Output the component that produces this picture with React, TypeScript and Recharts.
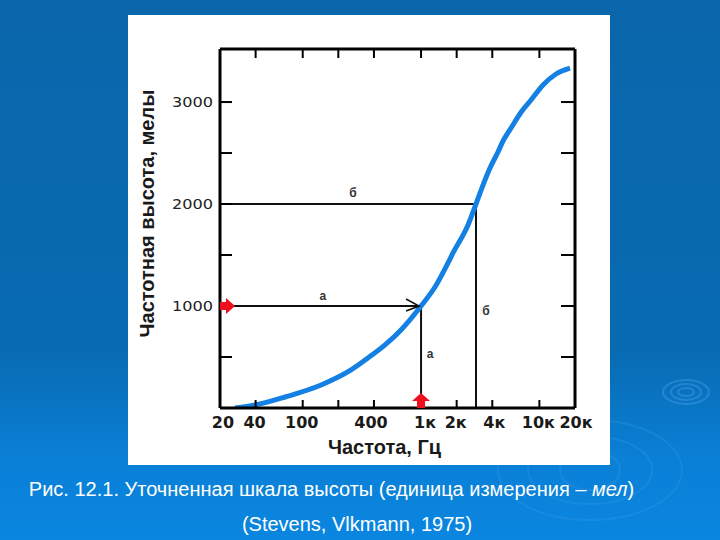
import React from "react";
import { ComposedChart, Line, XAxis, YAxis, ReferenceDot } from "recharts";

const sansBold = "'DejaVu Sans', sans-serif";
const arial = "'Liberation Sans', Arial, sans-serif";

// Hz on the x axis, mels on the y axis
const curveFreq = [26.8, 39.5, 71, 143, 256, 356, 496, 677, 1000, 1312, 1690, 1862, 2494, 2913, 3340, 3826, 4470, 4930, 5760, 7000, 8500, 10740, 13820, 18140];
const curveMels = [0, 29, 108, 225, 373, 490, 618, 765, 1000, 1186, 1422, 1520, 1794, 2000, 2186, 2353, 2510, 2618, 2745, 2900, 3020, 3167, 3275, 3333];
const guideAFreq = [20, 1000, 1000];
const guideAMels = [1000, 1000, 0];
const guideBFreq = [20, 2913, 2913];
const guideBMels = [2000, 2000, 0];
const freqTicks = [20, 40, 100, 200, 400, 1000, 2000, 4000, 10000, 20000];
const freqLabels = ["20", "40", "100", "", "400", "1к", "2к", "4к", "10к", "20к"];
const melTicks = [500, 1000, 1500, 2000, 2500, 3000];
const melLabels = ["", "1000", "", "2000", "", "3000"];
const noteFreq = [266, 148, 3540, 1191];
const noteMels = [2108, 1098, 951, 529];
const noteText = ["б", "а", "б", "а"];

const zip = (xs: number[], ys: number[]) => xs.map((f, i) => ({ f, mel: ys[i] }));
const curve = zip(curveFreq, curveMels);
const guideA = zip(guideAFreq, guideAMels);
const guideB = zip(guideBFreq, guideBMels);
const domainX: [number, number] = [20, 20000];
const domainY: [number, number] = [0, 3520];

const BottomTick = (p: any) => {
  const i = freqTicks.indexOf(p.payload.value);
  const nudge = [3, -1, -1, 0, -3, 4, -1, 2, -1, 1][i] || 0;
  return (
    <text x={p.x + nudge} y={p.y + 26} textAnchor="middle" fontFamily={sansBold} fontWeight={700} fontSize={16} fill="#1a1a1a">
      {freqLabels[i]}
    </text>
  );
};
const LeftTick = (p: any) => {
  const i = melTicks.indexOf(p.payload.value);
  return (
    <text x={85} y={p.y + 5} textAnchor="end" fontFamily={sansBold} fontSize={14} fill="#222" textLength={melLabels[i] ? 41 : undefined} lengthAdjust="spacingAndGlyphs">
      {melLabels[i]}
    </text>
  );
};
const EmptyTick = () => <g />;

const rightArrow = (p: any) => (
  <polygon points={`${p.cx},${p.cy - 4} ${p.cx + 6},${p.cy - 4} ${p.cx + 6},${p.cy - 8} ${p.cx + 15},${p.cy} ${p.cx + 6},${p.cy + 8} ${p.cx + 6},${p.cy + 4} ${p.cx},${p.cy + 4}`} fill="#ee0f1e" />
);
const upArrow = (p: any) => (
  <polygon points={`${p.cx - 4},${p.cy} ${p.cx - 4},${p.cy - 7} ${p.cx - 9},${p.cy - 7} ${p.cx},${p.cy - 15} ${p.cx + 9},${p.cy - 7} ${p.cx + 4},${p.cy - 7} ${p.cx + 4},${p.cy}`} fill="#ee0f1e" />
);
const blackArrow = (p: any) => (
  <polyline points={`${p.cx - 15},${p.cy - 7} ${p.cx - 2},${p.cy} ${p.cx - 15},${p.cy + 5}`} fill="none" stroke="#111" strokeWidth={1.6} />
);

export default function App() {
  return (
    <div style={{ position: "absolute", left: 0, top: 0, width: 720, height: 540, overflow: "hidden", background: "linear-gradient(180deg,#0b66ab 0%,#086bb2 65%,#0a80d6 85%,#0a86e0 100%)" }}>
      <svg width={720} height={540} style={{ position: "absolute", left: 0, top: 0 }}>
        <g fill="none" stroke="#4aa3ea" strokeOpacity={0.4} strokeWidth={2}>
          <ellipse cx={686} cy={392} rx={8} ry={4} />
          <ellipse cx={686} cy={392} rx={15} ry={8} />
          <ellipse cx={686} cy={392} rx={23} ry={12} />
        </g>
        <g fill="none" stroke="#4aa3ea" strokeOpacity={0.22} strokeWidth={2}>
          <ellipse cx={590} cy={470} rx={30} ry={20} />
          <ellipse cx={590} cy={470} rx={62} ry={34} />
          <ellipse cx={590} cy={470} rx={92} ry={50} />
        </g>
      </svg>
      <div style={{ position: "absolute", left: 128, top: 15, width: 482, height: 450, background: "#fff" }}>
        <ComposedChart width={482} height={450} margin={{ left: 32, top: 29, right: 30, bottom: 17 }} data={curve}>
          <XAxis xAxisId="bottom" type="number" dataKey="f" scale="log" domain={domainX} ticks={freqTicks} interval={0} allowDataOverflow height={40} stroke="#000" strokeWidth={3} tickLine={{ stroke: "#000", strokeWidth: 2 }} tickSize={-8} tick={<BottomTick />}
            label={{ value: "Частота, Гц", position: "insideBottom", dy: 11, dx: -13, style: { fontFamily: arial, fontWeight: 700, fontSize: 20, fill: "#1a1a1a" } }} />
          <XAxis xAxisId="top" orientation="top" type="number" dataKey="f" scale="log" domain={domainX} ticks={freqTicks.slice(1, -1)} interval={0} allowDataOverflow height={5} stroke="#000" strokeWidth={3} tickLine={{ stroke: "#000", strokeWidth: 2 }} tickSize={-9} tick={<EmptyTick />} />
          <YAxis yAxisId="left" type="number" domain={domainY} ticks={melTicks} interval={0} allowDataOverflow width={60} stroke="#000" strokeWidth={3} tickLine={{ stroke: "#000", strokeWidth: 2 }} tickSize={-12} tick={<LeftTick />}
            label={{ value: "Частотная высота, мелы", angle: -90, position: "insideLeft", dx: -18, dy: 109, style: { fontFamily: arial, fontWeight: 700, fontSize: 20, fill: "#1a1a1a" } }} />
          <YAxis yAxisId="right" orientation="right" type="number" domain={domainY} ticks={melTicks} interval={0} allowDataOverflow width={5} stroke="#000" strokeWidth={3} tickLine={{ stroke: "#000", strokeWidth: 2 }} tickSize={-14} tick={<EmptyTick />} />
          <Line xAxisId="bottom" yAxisId="left" data={guideA} dataKey="mel" stroke="#111" strokeWidth={2} dot={false} isAnimationActive={false} />
          <Line xAxisId="bottom" yAxisId="left" data={guideB} dataKey="mel" stroke="#111" strokeWidth={2} dot={false} isAnimationActive={false} />
          <Line xAxisId="bottom" yAxisId="left" data={curve} dataKey="mel" stroke="#1480e4" strokeWidth={5} dot={false} isAnimationActive={false} type="monotone" />
          {noteText.map((t, i) => (
            <ReferenceDot key={i} xAxisId="bottom" yAxisId="left" x={noteFreq[i]} y={noteMels[i]} r={0} stroke="none" ifOverflow="visible"
              label={{ value: t, position: "center", style: { fontFamily: arial, fontWeight: 700, fontSize: 12, fill: "#333" } }} />
          ))}
          <ReferenceDot xAxisId="bottom" yAxisId="left" x={1000} y={1000} shape={blackArrow} ifOverflow="visible" />
          <ReferenceDot xAxisId="bottom" yAxisId="left" x={20} y={1000} shape={rightArrow} ifOverflow="visible" />
          <ReferenceDot xAxisId="bottom" yAxisId="left" x={1000} y={0} shape={upArrow} ifOverflow="visible" />
        </ComposedChart>
      </div>
      <div style={{ position: "absolute", left: 0, top: 478, width: 663, textAlign: "center", color: "#fff", fontFamily: arial, fontSize: 20, whiteSpace: "nowrap" }}>
        Рис. 12.1. Уточненная шкала высоты (единица измерения – <i>мел</i>)
      </div>
      <div style={{ position: "absolute", left: 0, top: 513, width: 714, textAlign: "center", color: "#fff", fontFamily: arial, fontSize: 20, whiteSpace: "nowrap" }}>
        (Stevens, Vlkmann, 1975)
      </div>
    </div>
  );
}
